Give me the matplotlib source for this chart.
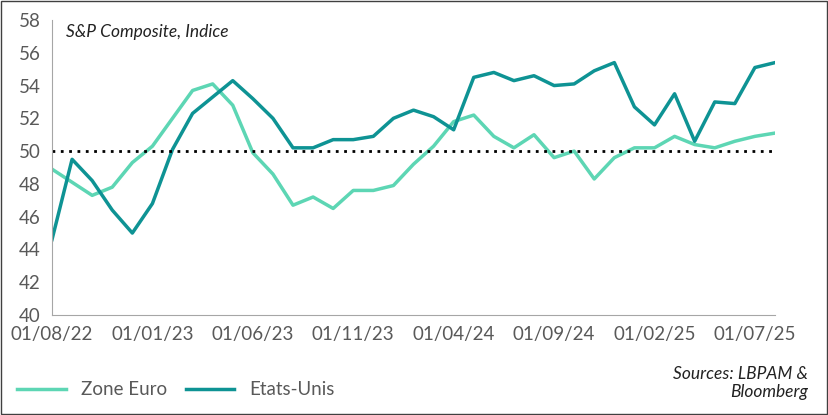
import numpy as np
import pandas as pd
import matplotlib
matplotlib.use("Agg")
import matplotlib.pyplot as plt
from matplotlib.patches import Rectangle

plt.rcParams["font.family"] = ["Lato", "DejaVu Sans"]

dates = pd.date_range("2022-08-01", "2025-08-01", freq="MS")
euro = [48.9, 48.1, 47.3, 47.8, 49.3, 50.3, 52.0, 53.7, 54.1, 52.8, 49.9, 48.6,
        46.7, 47.2, 46.5, 47.6, 47.6, 47.9, 49.2, 50.3, 51.8, 52.2, 50.9, 50.2,
        51.0, 49.6, 50.0, 48.3, 49.6, 50.2, 50.2, 50.9, 50.4, 50.2, 50.6, 50.9, 51.1]
us = [44.6, 49.5, 48.2, 46.4, 45.0, 46.8, 50.1, 52.3, 53.3, 54.3, 53.2, 52.0,
      50.2, 50.2, 50.7, 50.7, 50.9, 52.0, 52.5, 52.1, 51.3, 54.5, 54.8, 54.3,
      54.6, 54.0, 54.1, 54.9, 55.4, 52.7, 51.6, 53.5, 50.6, 53.0, 52.9, 55.1, 55.4]
tick_dates = pd.date_range("2022-08-01", "2025-07-01", freq="5MS")

EURO_C = "#5DD6B4"
US_C = "#0E9394"

fig = plt.figure(figsize=(8.29, 4.15), dpi=100)
ax = fig.add_axes([52 / 829, 100 / 415, (775 - 52) / 829, (315 - 20) / 415])
x = np.arange(len(dates))
ax.plot(x, euro, color=EURO_C, lw=2.5, label="Zone Euro")
ax.plot(x, us, color=US_C, lw=2.5, label="Etats-Unis")
ax.axhline(50, color="black", ls=(0, (1, 2)), lw=2)

ax.set_xlim(0, len(dates) - 1)
ax.set_ylim(40, 58)
ax.set_yticks(range(40, 59, 2))
tpos = [list(dates).index(d) for d in tick_dates]
ax.set_xticks(tpos)
ax.set_xticklabels([d.strftime("%d/%m/%y") for d in tick_dates])
ax.tick_params(labelsize=13.5, colors="#595959", length=0, pad=8)
for s in ["top", "right"]:
    ax.spines[s].set_visible(False)
for s in ["left", "bottom"]:
    ax.spines[s].set_color("#A6A6A6")

ax.text(0.02, 0.985, "S&P Composite, Indice", transform=ax.transAxes,
        fontsize=12.5, style="italic", va="top", color="#222222")

fig.legend(loc="lower left", bbox_to_anchor=(0.0, 0.0), ncol=2, frameon=False,
           fontsize=13.5, handlelength=2.6, columnspacing=1.0,
           labelcolor="#595959")
fig.text(0.975, 0.035, "Sources: LBPAM &\nBloomberg", ha="right", va="bottom",
         fontsize=12.5, style="italic", color="#222222")
fig.patches.append(Rectangle((0.001, 0.002), 0.997, 0.995, transform=fig.transFigure,
                             fill=False, edgecolor="#404040", lw=1))
fig.savefig("out.png", dpi=100)
